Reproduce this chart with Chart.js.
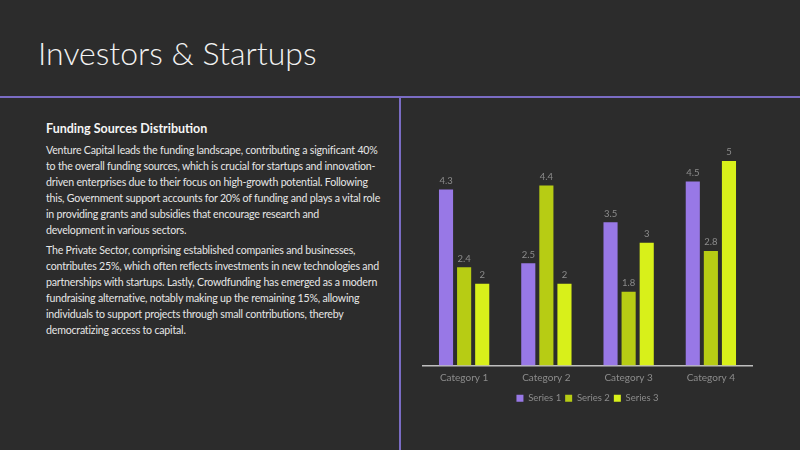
<!DOCTYPE html>
<html>
<head>
<meta charset="utf-8">
<script src="https://cdn.jsdelivr.net/npm/chart.js@4.4.1/dist/chart.umd.min.js"></script>
<style>
html,body{margin:0;padding:0;background:#2c2c2c;width:800px;height:450px;overflow:hidden;}
#title{position:absolute;left:38px;top:33px;font-family:'Lato',sans-serif;font-weight:300;font-size:32px;color:#f2f2f2;white-space:nowrap;}
#hline{position:absolute;left:0;top:96px;width:800px;height:2px;background:#7a6cc4;}
#vline{position:absolute;left:399px;top:96px;width:2px;height:354px;background:#7a6cc4;}
#panel{position:absolute;left:46px;top:120px;width:345px;font-family:'Lato',sans-serif;color:#e6e6e6;}
#panel h3{margin:0 0 4px 0;font-size:12.5px;font-weight:700;color:#f5f5f5;line-height:18px;}
#panel p{margin:0 0 4px 0;font-size:10.6px;line-height:16px;white-space:nowrap;letter-spacing:-0.2px;}
#chartbox{position:absolute;left:415px;top:120px;width:345px;height:293px;}
</style>
</head>
<body>
<div id="title">Investors &amp; Startups</div>
<div id="hline"></div>
<div id="vline"></div>
<div id="panel">
<h3>Funding Sources Distribution</h3>
<p>Venture Capital leads the funding landscape, contributing a significant 40%<br>to the overall funding sources, which is crucial for startups and innovation-<br>driven enterprises due to their focus on high-growth potential. Following<br>this, Government support accounts for 20% of funding and plays a vital role<br>in providing grants and subsidies that encourage research and<br>development in various sectors.</p>
<p>The Private Sector, comprising established companies and businesses,<br>contributes 25%, which often reflects investments in new technologies and<br>partnerships with startups. Lastly, Crowdfunding has emerged as a modern<br>fundraising alternative, notably making up the remaining 15%, allowing<br>individuals to support projects through small contributions, thereby<br>democratizing access to capital.</p>
</div>
<div id="chartbox"><canvas id="c"></canvas></div>
<script>
const categories = ['Category 1','Category 2','Category 3','Category 4'];
const seriesNames = ['Series 1','Series 2','Series 3'];
const series1 = [4.3, 2.5, 3.5, 4.5];
const series2 = [2.4, 4.4, 1.8, 2.8];
const series3 = [2, 2, 3, 5];
const seriesColors = ['#9878e6','#b7cc14','#d8f01a'];

const valueLabels = {
  id:'valueLabels',
  afterDatasetsDraw(chart){
    const ctx = chart.ctx;
    ctx.save();
    ctx.font = '9.5px Lato, sans-serif';
    ctx.fillStyle = '#8c8c8c';
    ctx.textAlign = 'center';
    ctx.textBaseline = 'bottom';
    chart.data.datasets.forEach((ds, i) => {
      const meta = chart.getDatasetMeta(i);
      meta.data.forEach((bar, j) => {
        ctx.fillText(String(ds.data[j]), bar.x, bar.y - 4);
      });
    });
    ctx.restore();
  }
};

new Chart(document.getElementById('c'), {
  type:'bar',
  data:{
    labels: categories,
    datasets:[
      {label:seriesNames[0], data:series1, backgroundColor:seriesColors[0]},
      {label:seriesNames[1], data:series2, backgroundColor:seriesColors[1]},
      {label:seriesNames[2], data:series3, backgroundColor:seriesColors[2]}
    ]
  },
  options:{
    responsive:true,
    maintainAspectRatio:false,
    animation:false,
    categoryPercentage:0.66,
    barPercentage:0.78,
    layout:{padding:{left:8,right:8,top:0,bottom:0}},
    plugins:{
      legend:{position:'bottom',labels:{color:'#8c8c8c',font:{family:'Lato',size:9.5},boxWidth:7,boxHeight:7,padding:4}},
      tooltip:{enabled:false}
    },
    scales:{
      x:{grid:{display:false,drawTicks:false},border:{color:'#bfbfbf',width:1.5},ticks:{color:'#8c8c8c',font:{family:'Lato',size:10},padding:6}},
      y:{display:false,min:0,max:6}
    }
  },
  plugins:[valueLabels]
});
</script>
</body>
</html>
